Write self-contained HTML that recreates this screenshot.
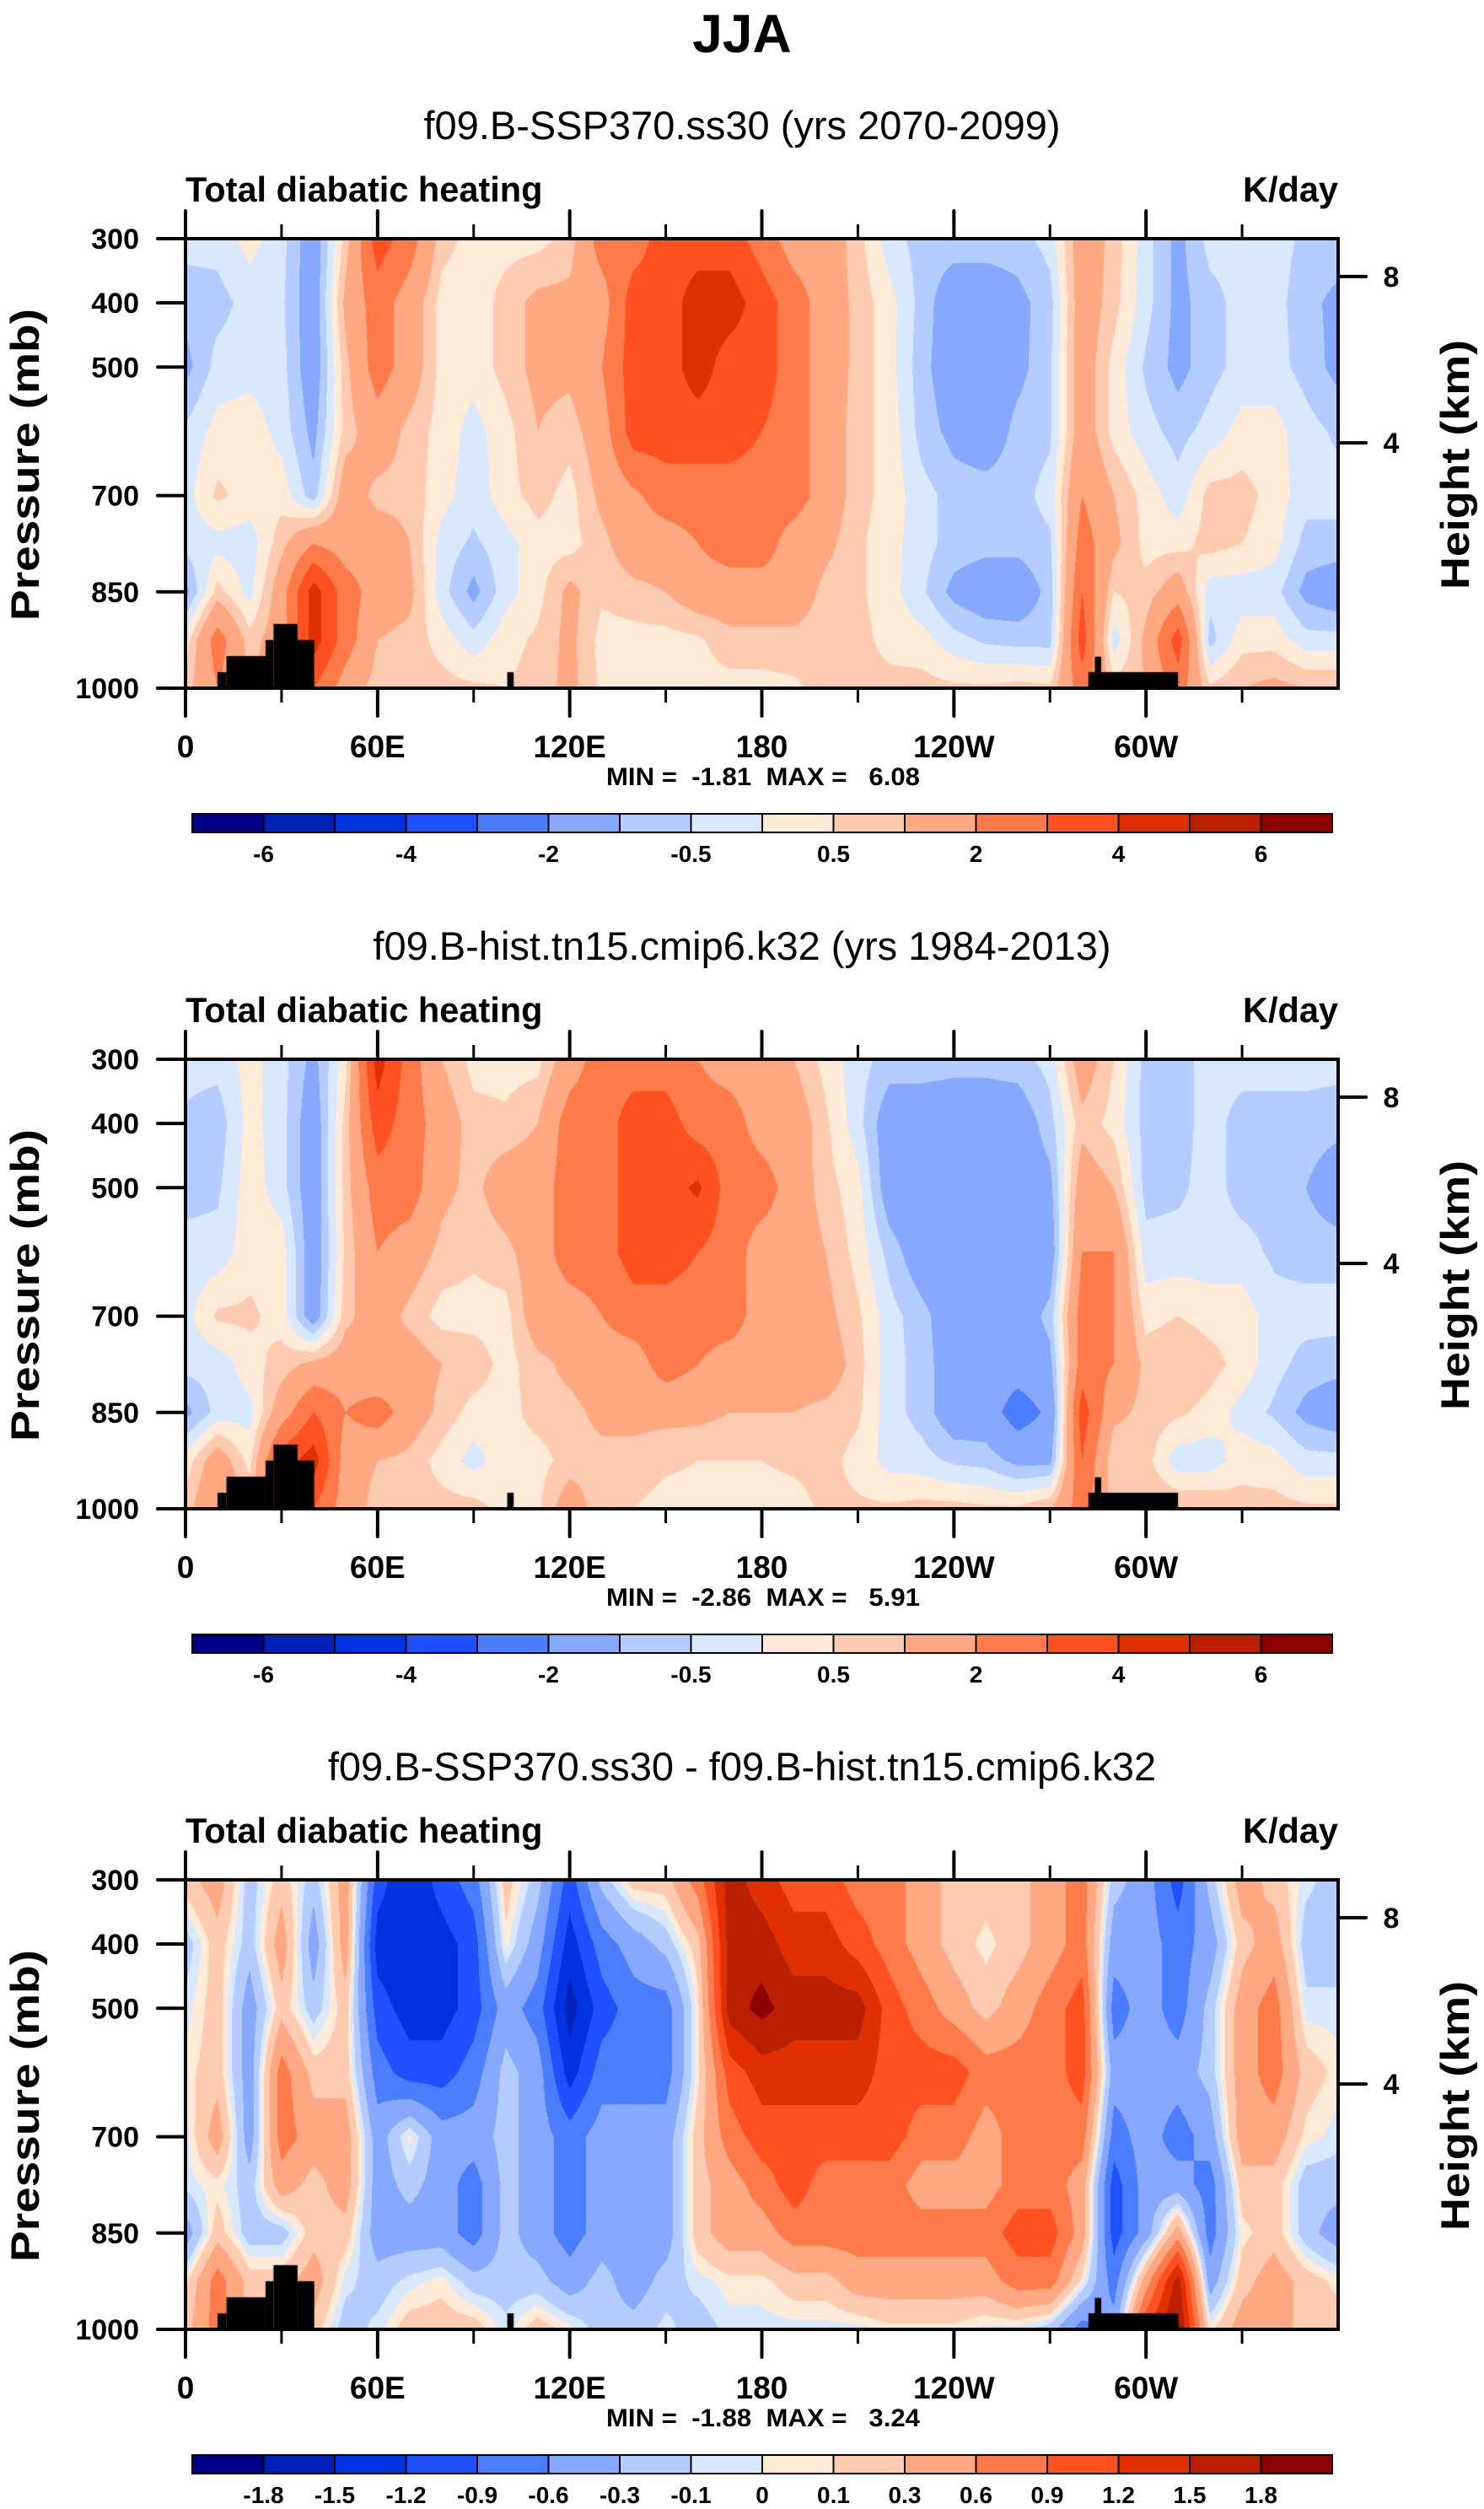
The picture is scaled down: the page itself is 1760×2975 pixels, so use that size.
<!DOCTYPE html>
<html><head><meta charset="utf-8"><title>JJA Total diabatic heating</title>
<style>
html,body{margin:0;padding:0;background:#fff;}
body{position:relative;width:1760px;height:2975px;overflow:hidden;font-family:"Liberation Sans",sans-serif;}
canvas{position:absolute;left:220px;}
#overlay{position:absolute;left:0;top:0;}
text{font-family:"Liberation Sans",sans-serif;fill:#000;}
.b{font-weight:bold;}
</style></head><body>
<canvas id="c0" width="1367" height="533" style="top:283px"></canvas>
<canvas id="c1" width="1367" height="533" style="top:1256px"></canvas>
<canvas id="c2" width="1367" height="533" style="top:2229px"></canvas>
<svg id="overlay" width="1760" height="2975" xmlns="http://www.w3.org/2000/svg">
<text x="880" y="62" text-anchor="middle" class="b" font-size="64">JJA</text>
</svg>
<script>
// ---- shared axes data ----
const lons = [0,10,20,30,40,50,60,70,80,90,100,110,120,130,140,150,160,170,180,190,200,210,220,230,240,250,260,270,280,290,300,310,320,330,340,350,360];
const levels = [300,400,500,600,700,775,850,925,1000];
const pressureTicks = [300,400,500,700,850,1000];
const heightTicks = [8,4];
const heightTickPressure = [359,618];
const lonTickLabels = ["0","60E","120E","180","120W","60W"];
const lonMajorTicks = [0,60,120,180,240,300];
const lonMinorTicks = [30,90,150,210,270,330];
const palette = ["#00008a","#0021b8","#0033e0","#1e50ff","#4a7dff","#86a8ff","#b4ccff","#d8e8ff","#ffead8","#ffcbb0","#ffa882","#ff7a4a","#ff5020","#e03000","#b82000","#8b0000"];
const levelsFull = [-6,-5,-4,-3,-2,-1,-0.5,0,0.5,1,2,3,4,5,6];
const labelsFull = ["-6","-4","-2","-0.5","0.5","2","4","6"];
const labelIdxFull = [0,2,4,6,8,10,12,14];
const levelsDiff = [-1.8,-1.5,-1.2,-0.9,-0.6,-0.3,-0.1,0,0.1,0.3,0.6,0.9,1.2,1.5,1.8];
const labelsDiff = ["-1.8","-1.5","-1.2","-0.9","-0.6","-0.3","-0.1","0","0.1","0.3","0.6","0.9","1.2","1.5","1.8"];
const labelIdxDiff = [0,1,2,3,4,5,6,7,8,9,10,11,12,13,14];
// land (topography) blocks: [lon0, lon1, top pressure]
const landLon0 = [10,12.8,25,27.5,35,100.5,282,284];
const landLon1 = [12.8,25,27.5,35,40.2,102.5,310,286];
const landTop = [975,950,925,900,925,975,975,951];

// ---- panel 1: SSP370 (columns by longitude, top->bottom levels) ----
const field1 = [
[-0.3,-0.8,-1.2,-0.4,-0.2,-0.3,-1.2,0.2,0.7],
[-0.3,-0.7,-0.3,0.2,0.6,-0.2,0.7,2.5,2],
[0.2,-0.3,-0.2,0.3,0.3,-0.3,-0.2,0.7,1],
[-0.3,-0.4,-0.3,-0.2,0.3,0.8,1.5,1.5,1.5],
[-1.5,-1.5,-1.5,-1.2,-0.8,2,4.5,4.5,3],
[0.7,1.2,0.8,0.7,1.5,1.5,2.5,2.5,1.5],
[3.5,2.5,2.5,1.5,0.8,1.5,1.5,1,0.7],
[2.5,1.5,1.5,0.8,0.8,1,1.2,0.8,0.7],
[0.7,0.3,0.3,0.3,0.2,-0.2,-0.3,0.3,0.7],
[0.3,0.2,0.2,-0.2,-0.3,-0.6,-1.2,-0.3,0.6],
[0.3,0.7,0.7,0.3,0.3,-0.2,-0.2,0.3,0.5],
[0.3,1.2,1.2,1,0.7,0.3,0.3,0.6,0.7],
[0.7,1.2,1.2,0.7,0.3,0.3,1.2,1.2,1.2],
[2.5,1.5,2,1.5,1.2,0.8,0.6,0.3,0.4],
[2.5,3.5,3.5,3.5,1.8,1.5,0.8,0.3,0.3],
[3.5,3.5,3.5,3.5,2.5,1.5,1,0.3,0.3],
[3.5,4.5,4.5,3.5,2.5,2,1.5,0.4,0.3],
[3.5,4.5,3.5,3.5,2.5,2.5,1.5,0.8,0.3],
[2.5,3.5,3.5,3,2.5,2.5,1.5,0.8,0.3],
[1.5,2.5,2.5,2.5,2.5,1.5,1.5,0.8,0.4],
[1.5,1.5,1.5,1.5,1.5,1.2,0.8,0.7,0.7],
[0.7,0.8,0.8,0.7,0.7,0.6,0.6,0.7,0.7],
[-0.3,0.2,0.2,0.3,0.3,0.2,0.2,0.3,0.7],
[-0.7,-0.7,-0.8,-0.7,-0.3,-0.3,-0.4,0.2,0.7],
[-0.7,-1.5,-1.5,-1.2,-0.7,-0.7,-1.2,-0.3,0.6],
[-0.7,-1.5,-1.5,-1.5,-0.7,-0.8,-1.5,-0.6,0.6],
[-0.7,-1.2,-1.2,-0.8,-0.7,-0.8,-1.5,-0.7,0.7],
[-0.3,-0.7,-0.6,-0.6,-0.3,-0.6,-0.8,-0.7,0.6],
[1.5,1.5,1.5,1.5,2,2.5,3,3.5,2.5],
[0.8,0.7,0.3,0.3,1,1.2,0.5,-0.3,0.7],
[-0.3,-0.3,-0.6,-0.3,0.3,0.3,0.7,1.2,1],
[-1.2,-1.2,-1.2,-0.7,-0.3,0.3,1.5,3.5,2.5],
[-0.3,-0.7,-0.7,-0.3,0.7,0.7,-0.3,-0.7,0.6],
[-0.3,-0.3,-0.3,0.2,0.7,0.5,-0.3,0.3,1],
[-0.3,-0.3,-0.3,0.2,0.3,0.2,-0.3,0.3,1.2],
[-0.6,-0.8,-0.7,-0.3,-0.3,-0.7,-1.2,-0.3,1],
[-0.6,-1.2,-1.2,-0.6,-0.3,-0.7,-1.5,-0.3,1]
];
// ---- panel 2: historical ----
const field2 = [
[-0.3,-0.6,-0.7,-0.3,-0.2,-0.3,-1.2,0.2,0.7],
[-0.3,-0.8,-0.6,-0.3,0.6,-0.3,-0.3,1.5,2],
[0.2,0.2,0.3,0.3,0.6,0.3,-0.2,0.3,1],
[-0.3,-0.3,-0.3,0.3,0.3,0.7,1.5,3.5,2.5],
[-1.2,-1.5,-1.5,-1.5,-1.5,1.2,3,4.5,3],
[0.3,0.7,0.7,0.6,0.8,1.5,2,1.5,1.5],
[4.5,3.5,2.5,2,1.5,1,2.5,1,0.7],
[2.5,2.5,2.5,1.5,0.8,1.5,1.5,0.8,0.7],
[1,1.5,1.2,0.8,0.3,1,0.8,0.3,0.7],
[0.3,0.7,0.8,0.6,0.3,0.8,0.3,-0.2,0.7],
[0.3,0.6,1.5,0.8,0.3,0.3,0.3,0.3,0.3],
[0.3,1,1.5,1.5,1.5,0.8,0.7,0.3,0.4],
[1.5,2.5,2.5,2.5,1.5,1.2,0.8,0.7,1.5],
[2.5,2.5,2.5,2.5,2,1.5,1.2,0.8,0.6],
[2.5,3.5,3.5,3.5,2.5,1.5,1.2,0.8,0.5],
[2.5,3.5,3.5,3.5,2.5,2.5,1.2,0.6,0.3],
[2,2.5,4.2,3,2.5,2,1.2,0.5,0.3],
[1.5,2.5,2.5,2.5,2.5,1.5,1,0.5,0.3],
[1.5,1.5,2.5,1.5,1.5,1.5,1,0.5,0.3],
[1,1.5,1.5,1.5,1.5,1.5,1,0.6,0.3],
[0.3,0.6,0.7,1,1.2,1.5,0.8,0.7,0.6],
[-0.3,-0.3,0.2,0.3,0.6,0.7,0.6,0.3,0.6],
[-0.7,-1.5,-1.5,-0.7,-0.3,-0.3,-0.3,-0.2,0.6],
[-0.7,-1.5,-1.5,-1.5,-0.8,-0.7,-0.7,-0.3,0.7],
[-0.8,-1.5,-1.5,-1.5,-1.5,-1.5,-1.5,-0.6,0.7],
[-0.8,-1.5,-1.5,-1.5,-1.5,-1.5,-1.5,-0.7,0.6],
[-0.7,-1.5,-1.5,-1.5,-1.5,-1.5,-2.5,-1.2,0.6],
[-0.3,-0.7,-1.2,-1.5,-0.8,-1.2,-1.8,-1.2,1],
[1.5,0.8,1.5,2,2.5,2.5,3.5,3,2.5],
[0.5,0.3,1,2,2,2,1.2,0.5,0.7],
[-0.7,-0.7,-0.7,-0.3,0.3,0.8,0.8,0.7,1],
[-0.7,-0.7,-0.6,-0.3,0.5,1,0.6,-0.3,1],
[-0.3,-0.3,-0.3,-0.3,0.3,0.7,0.3,-0.3,1],
[-0.3,-0.7,-0.7,-0.3,0.3,0.3,-0.2,0.3,0.7],
[-0.3,-0.7,-0.7,-0.6,-0.3,-0.3,-0.6,0.2,0.7],
[-0.3,-0.7,-1,-0.7,-0.3,-0.7,-1.2,-0.3,0.6],
[-0.3,-0.8,-1.5,-0.7,-0.3,-0.8,-1.5,-0.3,0.6]
];
// ---- panel 3: difference ----
const field3 = [
[0.2,-0.2,-0.05,0.05,-0.05,-0.05,-0.45,0.05,0.2],
[0.45,0.2,0.2,0.2,0.45,0.05,0.2,0.75,0.75],
[-0.2,-0.2,-0.45,-0.45,-0.45,-0.2,-0.2,0.2,0.2],
[0.2,0.45,0.2,0.75,0.75,0.45,-0.2,0.2,0.2],
[-0.2,-0.45,-0.2,0.2,0.45,0.2,0.2,0.45,0.2],
[0.45,0.45,0.2,0.2,0.45,0.45,0.2,-0.05,-0.2],
[-1.05,-1.35,-1.05,-0.75,-0.45,-0.45,-0.45,-0.2,-0.05],
[-1.5,-1.5,-1.35,-1.05,0.05,-0.2,-0.45,-0.05,0.2],
[-1.05,-1.35,-1.35,-1.05,-0.45,-0.45,-0.45,0.05,0.2],
[-0.75,-1.05,-1.05,-0.75,-0.45,-0.75,-0.75,-0.2,0.2],
[0.2,0.05,-0.45,-0.2,-0.2,-0.2,-0.2,-0.2,-0.05],
[-0.2,-0.45,-0.75,-0.45,-0.45,-0.45,-0.45,-0.2,0.2],
[-1.05,-1.35,-1.65,-1.35,-0.75,-0.75,-0.75,-0.45,0.05],
[-0.2,-0.75,-1.05,-0.75,-0.45,-0.45,-0.45,-0.2,-0.2],
[0.2,-0.45,-0.75,-0.75,-0.45,-0.45,-0.45,-0.45,-0.2],
[0.2,-0.2,-0.75,-0.75,-0.45,-0.45,-0.45,-0.2,-0.05],
[0.75,0.2,0.05,0.05,0.2,0.2,0.2,-0.05,-0.2],
[1.65,1.65,1.65,1.05,0.75,0.45,0.45,0.05,-0.05],
[1.35,1.65,1.9,1.35,1.05,0.75,0.45,0.05,-0.05],
[1.05,1.35,1.65,1.35,1.05,1.05,0.75,0.2,-0.05],
[1.05,1.35,1.65,1.35,1.05,0.75,0.75,0.2,-0.05],
[0.75,1.05,1.65,1.35,1.05,0.75,0.75,0.45,-0.05],
[0.75,0.75,1.05,1.05,1.05,0.75,0.75,0.45,0.05],
[0.45,0.45,0.75,1.05,0.75,0.45,0.75,0.45,0.05],
[0.2,0.2,0.45,1.05,0.75,0.45,0.75,0.45,0.05],
[0.2,0.05,0.2,0.75,0.45,0.45,0.75,0.45,-0.05],
[0.2,0.2,0.45,0.75,0.75,0.75,1.05,0.75,-0.05],
[0.45,0.45,0.75,0.75,0.75,0.75,1.05,0.75,-0.2],
[0.75,0.75,1.05,1.05,0.75,0.45,0.45,0.05,-0.75],
[-0.2,-0.45,-0.75,-0.45,-0.75,-1.05,-1.05,-0.75,-0.45],
[-0.45,-0.45,-0.45,-0.45,-0.45,-0.45,-0.45,0.45,1.2],
[-1.05,-0.75,-0.75,-0.45,-0.75,-0.45,0.45,1.65,1.9],
[-0.2,-0.45,-0.2,-0.2,-0.45,-0.75,-0.75,-0.45,0.05],
[0.45,0.2,0.45,0.45,0.45,0.2,0.05,0.2,0.45],
[0.2,0.45,0.75,0.75,0.45,0.2,0.2,0.45,0.45],
[-0.05,-0.2,-0.05,0.2,0.05,-0.2,-0.2,0.2,0.2],
[-0.2,-0.2,-0.05,0.05,-0.05,-0.2,-0.45,0.05,0.2]
];
const panelTitles = ["f09.B-SSP370.ss30 (yrs 2070-2099)","f09.B-hist.tn15.cmip6.k32 (yrs 1984-2013)","f09.B-SSP370.ss30 - f09.B-hist.tn15.cmip6.k32"];
const panelMin = ["-1.81","-2.86","-1.88"];
const panelMax = ["6.08","5.91","3.24"];

// ---- geometry ----
const PX0 = 220, PW = 1367, PH = 533;
const panelTops = [283,1256,2229];
const xScale = lon => PX0 + lon / 360 * PW;
const yScale = (p, T) => T + (p - 300) / 700 * PH;
const CB_X0 = 228, CB_W = 84.5;

function hexRGB(h){return [parseInt(h.substr(1,2),16),parseInt(h.substr(3,2),16),parseInt(h.substr(5,2),16)];}
const palRGB = palette.map(hexRGB);

function classify(v, lv){let k=0;while(k<lv.length && v>=lv[k])k++;return k;}

function drawField(canvasId, field, lv){
  const cv = document.getElementById(canvasId);
  const ctx = cv.getContext('2d');
  const img = ctx.createImageData(PW, PH);
  const d = img.data;
  for(let py=0; py<PH; py++){
    const p = 300 + (py+0.5)/PH*700;
    let j=0; while(j<levels.length-2 && p>levels[j+1]) j++;
    const ty = Math.min(1,Math.max(0,(p-levels[j])/(levels[j+1]-levels[j])));
    for(let px=0; px<PW; px++){
      const lon = (px+0.5)/PW*360;
      let i=0; while(i<lons.length-2 && lon>lons[i+1]) i++;
      const tx = (lon-lons[i])/(lons[i+1]-lons[i]);
      const a = field[i][j]*(1-ty)+field[i][j+1]*ty;
      const b = field[i+1][j]*(1-ty)+field[i+1][j+1]*ty;
      const v = a*(1-tx)+b*tx;
      const c = palRGB[classify(v, lv)];
      const o = (py*PW+px)*4;
      d[o]=c[0]; d[o+1]=c[1]; d[o+2]=c[2]; d[o+3]=255;
    }
  }
  ctx.putImageData(img,0,0);
  ctx.fillStyle = '#000';
  for(let k=0;k<landLon0.length;k++){
    const x0 = landLon0[k]/360*PW, x1 = landLon1[k]/360*PW;
    const y0 = (landTop[k]-300)/700*PH;
    ctx.fillRect(x0, y0, x1-x0, PH-y0);
  }
}
drawField('c0', field1, levelsFull);
drawField('c1', field2, levelsFull);
drawField('c2', field3, levelsDiff);

// ---- SVG overlay ----
const NS = 'http://www.w3.org/2000/svg';
const svg = document.getElementById('overlay');
function el(tag, attrs, parent){const e=document.createElementNS(NS,tag);for(const k in attrs)e.setAttribute(k,attrs[k]);(parent||svg).appendChild(e);return e;}
function txt(str, attrs, parent){const e=el('text',attrs,parent);e.textContent=str;return e;}

for(let n=0;n<3;n++){
  const T = panelTops[n];
  const g = el('g',{});
  
  

  const title = txt(panelTitles[n],{x:880,y:T-118,'text-anchor':'middle','font-size':47},g);
  
  
  const lt = txt('Total diabatic heating',{x:220,y:T-44,'font-size':41.5,'class':'b'},g);
  
  
  const ut = txt('K/day',{x:1587,y:T-44,'font-size':41.5,'class':'b','text-anchor':'end'},g);
  
  

  const fr = el('rect',{x:PX0,y:T,width:PW,height:PH,fill:'none',stroke:'#000','stroke-width':4},g);
  
  

  lonMajorTicks.forEach((lon,k)=>{
    const x = xScale(lon);
    const t1 = el('line',{x1:x,x2:x,y1:T,y2:T-33,stroke:'#000','stroke-width':4,'stroke-linecap':'round'},g);
    
    
    const t2 = el('line',{x1:x,x2:x,y1:T+PH,y2:T+PH+33,stroke:'#000','stroke-width':4,'stroke-linecap':'round'},g);
    
    
    const lb = txt(lonTickLabels[k],{x:x,y:T+PH+82,'text-anchor':'middle','font-size':37,'class':'b'},g);
    
    
  });
  lonMinorTicks.forEach(lon=>{
    const x = xScale(lon);
    const t1 = el('line',{x1:x,x2:x,y1:T,y2:T-17,stroke:'#000','stroke-width':3},g);
    
    
    const t2 = el('line',{x1:x,x2:x,y1:T+PH,y2:T+PH+17,stroke:'#000','stroke-width':3},g);
    
    
  });
  pressureTicks.forEach(p=>{
    const y = yScale(p,T);
    const t = el('line',{x1:187,x2:PX0,y1:y,y2:y,stroke:'#000','stroke-width':4,'stroke-linecap':'round'},g);
    
    
    const lb = txt(String(p),{x:165,y:y+12,'text-anchor':'end','font-size':34,'class':'b'},g);
    
    
  });
  heightTicks.forEach((h,k)=>{
    const y = yScale(heightTickPressure[k],T);
    const t = el('line',{x1:PX0+PW,x2:PX0+PW+33,y1:y,y2:y,stroke:'#000','stroke-width':4,'stroke-linecap':'round'},g);
    
    
    const lb = txt(String(h),{x:1650,y:y+12,'text-anchor':'middle','font-size':34,'class':'b'},g);
    
    
  });
  const yt = txt('Pressure (mb)',{x:0,y:0,'font-size':47,'class':'b','text-anchor':'middle',textLength:370,lengthAdjust:'spacingAndGlyphs',transform:'translate(46,'+(T+268)+') rotate(-90)'},g);
  
  
  const ht = txt('Height (km)',{x:0,y:0,'font-size':47,'class':'b','text-anchor':'middle',textLength:296,lengthAdjust:'spacingAndGlyphs',transform:'translate(1742,'+(T+268)+') rotate(-90)'},g);
  
  
  const mm = txt('MIN =  '+panelMin[n]+'  MAX =   '+panelMax[n],{x:905,y:T+648,'text-anchor':'middle','font-size':30,'class':'b',textLength:372,lengthAdjust:'spacingAndGlyphs',style:'white-space:pre'},g);
  
  
  const cby = T + 682;
  const cb = el('g',{},g);
  
  
  palette.forEach((col,k)=>{
    const r = el('rect',{x:CB_X0+k*CB_W,y:cby,width:CB_W,height:22,fill:col,stroke:'#000','stroke-width':2},cb);
    
    
  });
  const labs = n<2 ? labelsFull : labelsDiff;
  const idx = n<2 ? labelIdxFull : labelIdxDiff;
  labs.forEach((s,k)=>{
    const x = CB_X0 + (idx[k]+1)*CB_W;
    const lb = txt(s,{x:x,y:cby+57,'text-anchor':'middle','font-size':28,'class':'b'},cb);
    
    
  });
}
</script>
</body></html>
